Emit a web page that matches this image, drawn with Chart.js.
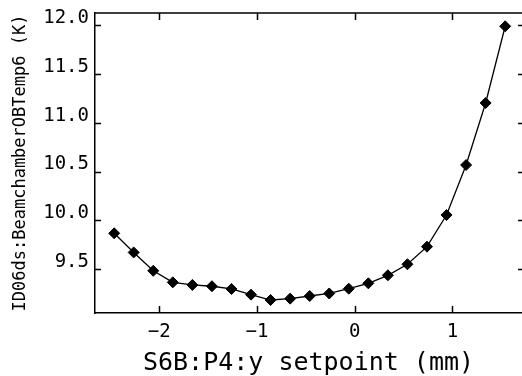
<!DOCTYPE html>
<html>
<head>
<meta charset="utf-8">
<script src="https://cdn.jsdelivr.net/npm/chart.js@4"></script>
<style>
  html, body { margin: 0; padding: 0; background: #fff; }
  #wrap { width: 522px; height: 376px; }
</style>
</head>
<body>
<div id="wrap"><canvas id="plot" width="522" height="376"></canvas></div>
<script>
const xValues = [-2.46, -2.26, -2.06, -1.86, -1.66, -1.46, -1.26, -1.06, -0.86, -0.66, -0.46,
                 -0.26, -0.06, 0.14, 0.34, 0.54, 0.74, 0.94, 1.14, 1.34, 1.54];
const yValues = [9.868, 9.672, 9.484, 9.366, 9.339, 9.326, 9.298, 9.240, 9.185, 9.199, 9.226,
                 9.252, 9.301, 9.356, 9.438, 9.551, 9.731, 10.055, 10.567, 11.202, 11.987];
const xTicks = [-2, -1, 0, 1];
const xTickLabels = ['\u22122', '\u22121', '0', '1'];
const yTicks = [9.5, 10.0, 10.5, 11.0, 11.5, 12.0];
const yTickLabels = ['9.5', '10.0', '10.5', '11.0', '11.5', '12.0'];
const xTitle = 'S6B:P4:y setpoint (mm)';
const yTitle = 'ID06ds:BeamchamberOBTemp6 (K)';

const points = xValues.map((x, i) => ({ x: x, y: yValues[i] }));

// top frame line and inward tick marks (right edge sits just off the canvas)
const frameTicks = {
    id: 'frameTicks',
    afterDraw(chart) {
        const { ctx, chartArea: a, scales: { x, y } } = chart;
        ctx.save();
        ctx.strokeStyle = '#000';
        ctx.lineWidth = 1.5;
        ctx.beginPath();
        ctx.moveTo(a.left, a.top);
        ctx.lineTo(a.right, a.top);
        xTicks.forEach(v => {
            const px = Math.round(x.getPixelForValue(v)) + 0.5;
            ctx.moveTo(px, a.bottom); ctx.lineTo(px, a.bottom - 7);
            ctx.moveTo(px, a.top); ctx.lineTo(px, a.top + 7);
        });
        yTicks.forEach(v => {
            const py = Math.round(y.getPixelForValue(v)) + 0.5;
            ctx.moveTo(a.left, py); ctx.lineTo(a.left + 6, py);
            ctx.moveTo(a.right + 2, py); ctx.lineTo(a.right - 4, py);
        });
        ctx.stroke();
        ctx.restore();
    }
};

new Chart(document.getElementById('plot'), {
    type: 'scatter',
    data: {
        datasets: [{
            data: points,
            showLine: true,
            borderColor: '#000',
            borderWidth: 1.3,
            pointStyle: 'rectRot',
            pointRadius: 5.5,
            pointBackgroundColor: '#000',
            pointBorderColor: '#000',
            pointBorderWidth: 1
        }]
    },
    options: {
        responsive: false,
        animation: false,
        layout: { autoPadding: false, padding: { top: 13, right: 0, left: 0, bottom: 0 } },
        plugins: { legend: { display: false }, tooltip: { enabled: false } },
        scales: {
            x: {
                type: 'linear',
                min: -2.656,
                max: 1.712,
                afterFit: s => { s.height = 63; s.paddingLeft = 0; s.paddingRight = 0; },
                afterBuildTicks: s => { s.ticks = xTicks.map(v => ({ value: v })); },
                grid: { display: false, drawTicks: false },
                border: { display: true, color: '#000', width: 1.5 },
                ticks: {
                    padding: 8,
                    color: '#000',
                    font: { family: 'DejaVu Sans Mono', size: 19 },
                    callback: (v, i) => xTickLabels[i]
                },
                title: {
                    display: true,
                    text: xTitle,
                    color: '#000',
                    padding: 0,
                    font: { family: 'DejaVu Sans Mono', size: 25, lineHeight: 1 }
                }
            },
            y: {
                type: 'linear',
                min: 9.052,
                max: 12.123,
                afterFit: s => { s.width = 95; s.paddingTop = 0; s.paddingBottom = 0; },
                afterBuildTicks: s => { s.ticks = yTicks.map(v => ({ value: v })); },
                grid: { display: false, drawTicks: false },
                border: { display: true, color: '#000', width: 1.5 },
                ticks: {
                    padding: 6,
                    labelOffset: -7,
                    color: '#000',
                    font: { family: 'DejaVu Sans Mono', size: 19 },
                    callback: (v, i) => yTickLabels[i]
                },
                title: {
                    display: true,
                    text: yTitle,
                    color: '#000',
                    padding: { top: 12, bottom: 0 },
                    font: { family: 'DejaVu Sans Mono', size: 17, lineHeight: 1 }
                }
            }
        }
    },
    plugins: [frameTicks]
});
</script>
</body>
</html>
